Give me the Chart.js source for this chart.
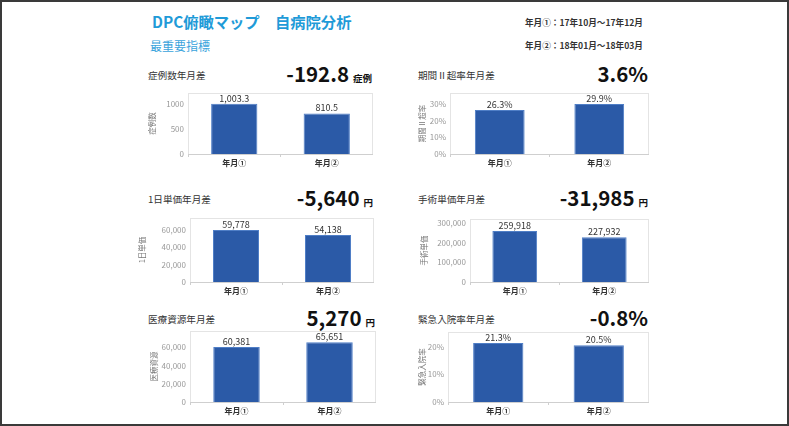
<!DOCTYPE html>
<html>
<head>
<meta charset="utf-8">
<script src="https://cdn.jsdelivr.net/npm/chart.js@4.4.1/dist/chart.umd.min.js"></script>
<style>
  html, body { margin: 0; padding: 0; background: #fff; }
  body { width: 789px; height: 426px; position: relative; overflow: hidden;
         font-family: "Noto Sans CJK JP", "Noto Sans", sans-serif; }
  #frame { position: absolute; left: 0; top: 0; width: 789px; height: 426px;
           box-sizing: border-box; border: 2px solid #3a3a3a; }
  .txt { position: absolute; white-space: nowrap; line-height: 1; }
  .main { color: #1f9bd8; font-weight: 700; font-size: 15.3px; }
  .sub { color: #3aa3dc; font-size: 12px; }
  .period { color: #333; font-weight: 700; font-size: 8.6px; }
  .title { color: #333; font-size: 9.6px; }
  .diff { color: #111; font-weight: 700; font-size: 20.5px; display: flex; align-items: baseline; }
  .diff span { font-size: 9.5px; margin-left: 4px; }
  .box { position: absolute; }
</style>
</head>
<body>
<div id="frame"></div>
<div class="txt main" style="left:152px; top:14px;">DPC俯瞰マップ　自病院分析</div>
<div class="txt sub" style="left:150px; top:40px;">最重要指標</div>
<div class="txt period" style="left:525px; top:18px;">年月①：17年10月～17年12月</div>
<div class="txt period" style="left:525px; top:41px;">年月②：18年01月～18年03月</div>
<div id="charts"></div>
<script>
// data
const periods = ['年月①', '年月②'];
const caseCounts = [1003.3, 810.5];
const overRate = [26.3, 29.9];
const dailyPrice = [59778, 54138];
const surgeryPrice = [259918, 227932];
const resourceCost = [60381, 65651];
const emergencyRate = [21.3, 20.5];

const chartTitles = ['症例数年月差', '期間Ⅱ超率年月差', '1日単価年月差', '手術単価年月差', '医療資源年月差', '緊急入院率年月差'];
const axisTitles = ['症例数', '期間Ⅱ超率', '1日単価', '手術単価', '医療資源', '緊急入院率'];
const diffTexts = ['-192.8', '3.6%', '-5,640', '-31,985', '5,270', '-0.8%'];
const diffUnits = ['症例', '', '円', '円', '円', ''];

// y axis ticks of each panel
const caseTicks = [0, 500, 1000];
const overTicks = [0, 10, 20, 30];
const dailyTicks = [0, 20000, 40000, 60000];
const surgeryTicks = [0, 100000, 200000, 300000];
const resourceTicks = [0, 20000, 40000, 60000];
const emergencyTicks = [0, 10, 20];

const seriesList = [caseCounts, overRate, dailyPrice, surgeryPrice, resourceCost, emergencyRate];
const tickList = [caseTicks, overTicks, dailyTicks, surgeryTicks, resourceTicks, emergencyTicks];
const yMax = [1220, 36.5, 73600, 321000, 78000, 25.3];
const isPct = [false, true, false, false, false, true];

// layout: plot rect of each panel + width of the y axis
const panels = [
  { left: 188, top: 93, w: 184, h: 61, yw: 40, tx: 148, ty: 71 },
  { left: 450, top: 93, w: 198, h: 61, yw: 32, tx: 418, ty: 71 },
  { left: 190, top: 218, w: 183, h: 64, yw: 52, tx: 148, ty: 195 },
  { left: 470, top: 219, w: 178, h: 63, yw: 50, tx: 418, ty: 195 },
  { left: 190, top: 331, w: 185, h: 71, yw: 40, tx: 148, ty: 315 },
  { left: 448, top: 332, w: 200, h: 70, yw: 30, tx: 418, ty: 315 }
];

function fmtValue(v, pct) {
  if (pct) return v.toFixed(1) + '%';
  if (v % 1 !== 0) return v.toLocaleString('en-US', { minimumFractionDigits: 1 });
  return v.toLocaleString('en-US');
}

const frameBox = {
  id: 'frameBox',
  beforeDraw(chart) {
    const a = chart.chartArea;
    const c = chart.ctx;
    c.save();
    c.strokeStyle = '#e4e4e4';
    c.lineWidth = 1;
    c.strokeRect(a.left + 0.5, a.top + 0.5, a.right - a.left - 1, a.bottom - a.top);
    c.restore();
  },
  afterDatasetsDraw(chart) {
    const c = chart.ctx;
    const pct = chart.options.plugins.frameBox.pct;
    const meta = chart.getDatasetMeta(0);
    c.save();
    c.fillStyle = '#333';
    c.font = '9px "Noto Sans CJK JP"';
    c.textAlign = 'center';
    c.textBaseline = 'bottom';
    meta.data.forEach((bar, i) => {
      c.fillText(fmtValue(chart.data.datasets[0].data[i], pct), bar.x, bar.y - 1);
    });
    c.restore();
  }
};

const holder = document.getElementById('charts');
const xH = 14;

panels.forEach((p, k) => {
  const t = document.createElement('div');
  t.className = 'txt title';
  t.style.left = p.tx + 'px';
  t.style.top = p.ty + 'px';
  t.textContent = chartTitles[k];
  holder.appendChild(t);

  const d = document.createElement('div');
  d.className = 'txt diff';
  d.style.right = (789 - (p.left + p.w)) + 'px';
  d.style.top = (p.ty - 8) + 'px';
  d.innerHTML = diffTexts[k] + (diffUnits[k] ? '<span>' + diffUnits[k] + '</span>' : '');
  holder.appendChild(d);

  const box = document.createElement('div');
  box.className = 'box';
  box.style.left = (p.left - p.yw) + 'px';
  box.style.top = p.top + 'px';
  box.style.width = (p.yw + p.w + 1) + 'px';
  box.style.height = (p.h + xH) + 'px';
  const cv = document.createElement('canvas');
  box.appendChild(cv);
  holder.appendChild(box);

  new Chart(cv, {
    type: 'bar',
    data: {
      labels: periods,
      datasets: [{
        data: seriesList[k],
        backgroundColor: '#2b5aa7',
        borderColor: '#4f7ec6',
        borderWidth: 1,
        categoryPercentage: 0.5,
        barPercentage: 1
      }]
    },
    plugins: [frameBox],
    options: {
      responsive: true,
      maintainAspectRatio: false,
      animation: false,
      layout: { padding: 0 },
      plugins: {
        legend: { display: false },
        tooltip: { enabled: false },
        frameBox: { pct: isPct[k] }
      },
      scales: {
        x: {
          grid: { display: true, drawOnChartArea: false, offset: true, tickLength: 3, color: '#cfcfcf' },
          border: { color: '#cfcfcf' },
          ticks: { color: '#333', padding: 1, font: { family: 'Noto Sans CJK JP', size: 8, weight: 'bold' } },
          afterFit(s) { s.height = xH; s.paddingLeft = 0; s.paddingRight = 0; }
        },
        y: {
          min: 0,
          max: yMax[k],
          grid: { display: false, drawTicks: false },
          border: { display: false },
          afterBuildTicks(s) { s.ticks = tickList[k].map(v => ({ value: v })); },
          ticks: {
            autoSkip: false,
            color: '#999',
            padding: 4,
            font: { family: 'Noto Sans CJK JP', size: 8 },
            callback(v) {
              if (isPct[k]) return v + '%';
              return k === 0 ? String(v) : v.toLocaleString('en-US');
            }
          },
          title: { display: true, text: axisTitles[k], color: '#777', padding: 0, font: { family: 'Noto Sans CJK JP', size: 7.5 } },
          afterFit(s) { s.width = p.yw; s.paddingTop = 0; s.paddingBottom = 0; }
        }
      }
    }
  });
});
</script>
</body>
</html>
